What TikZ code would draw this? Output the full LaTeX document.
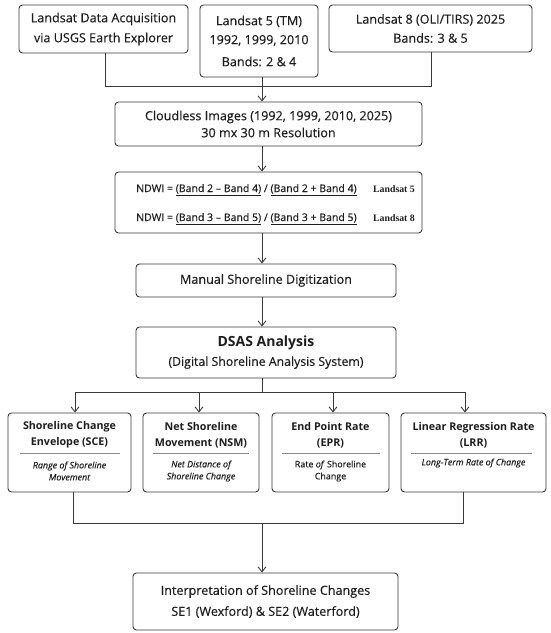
\documentclass[tikz,border=0pt]{standalone}
\usepackage{fontspec}
\setmainfont{Open Sans}
\newfontfamily\medf{Open Sans}[FakeBold=0.25]
\newfontfamily\serifb{Liberation Serif}
\usetikzlibrary{arrows.meta}
\definecolor{boxc}{HTML}{3A3A3A}
\definecolor{txt}{HTML}{1E1E1E}
\definecolor{divc}{HTML}{8A8A8A}
\begin{document}
\begin{tikzpicture}[x=1pt,y=-1pt,
  box/.style={draw=boxc, line width=0.9pt, rounded corners=3.5pt, inner sep=0pt,
    anchor=center, align=center, text=txt, fill=white},
  mainf/.style={font=\medf\fontsize{12.6}{#1}\selectfont},
  conn/.style={draw=boxc, line width=0.9pt},
  arr/.style={conn, -{Straight Barb[length=5pt,width=8pt,line width=0.9pt]}},
  ttl/.style={anchor=center, align=center, text=txt, inner sep=0pt,
    font=\fontsize{10.7}{16}\selectfont\bfseries},
  dsc/.style={anchor=center, align=center, text=txt, inner sep=0pt,
    font=\medf\fontsize{8.9}{12}\selectfont\itshape},
  formula/.style={anchor=base west, inner sep=0pt, text=txt, font=\medf\fontsize{10.5}{12}\selectfont},
  satlbl/.style={anchor=base west, inner sep=0pt, text=txt, font=\serifb\fontsize{9.8}{10}\selectfont\bfseries},
  divline/.style={draw=divc, line width=0.9pt}]
\useasboundingbox (0,0) rectangle (550,633);

% top row
\node[box, mainf=20, minimum width=169pt, minimum height=48pt] (acq) at (103.5,29)
  {Landsat Data Acquisition\\via USGS Earth Explorer};
\node[box, mainf=19, minimum width=118pt, minimum height=72pt] (tm) at (259,41)
  {Landsat 5 (TM)\\1992, 1999, 2010\\[3pt]Bands: 2 \& 4};
\node[box, mainf=19, minimum width=203pt, minimum height=47pt] (oli) at (430.5,28.5)
  {Landsat 8 (OLI/TIRS) 2025\\Bands: 3 \& 5};

% middle column
\node[box, mainf=17, minimum width=307pt, minimum height=44pt] (cloud) at (268.5,124)
  {Cloudless Images (1992, 1999, 2010, 2025)\\30 mx 30 m Resolution};
\node[box, minimum width=307pt, minimum height=61pt] (ndwi) at (268.5,202.5) {};
\node[formula] (f1) at (136,192) {NDWI = \underline{(Band 2 – Band 4)} / \underline{(Band 2 + Band 4)}};
\node[satlbl] (l5) at (373,192) {Landsat 5};
\node[formula] (f2) at (136,221) {NDWI = \underline{(Band 3 – Band 5)} / \underline{(Band 3 + Band 5)}};
\node[satlbl] (l8) at (373,221) {Landsat 8};
\node[box, mainf=14, minimum width=260pt, minimum height=33pt] (manual) at (266,280.5)
  {Manual Shoreline Digitization};
\node[box, font=\medf\fontsize{12.3}{19}\selectfont, minimum width=260pt, minimum height=51pt] (dsas) at (266,352.5)
  {{\normalfont\fontsize{14}{19}\selectfont\bfseries DSAS Analysis}\\(Digital Shoreline Analysis System)};

% method boxes
\node[box, minimum width=123pt, minimum height=79pt] (sce) at (69.5,452.5) {};
\node[box, minimum width=116pt, minimum height=79pt] (nsm) at (201,452.5) {};
\node[box, minimum width=117pt, minimum height=79pt] (epr) at (330.5,452.5) {};
\node[box, minimum width=145pt, minimum height=79pt] (lrr) at (473.5,452.5) {};

\node[ttl] (scet) at (69.5,435) {Shoreline Change\\Envelope (SCE)};
\node[ttl] (nsmt) at (201,435) {Net Shoreline\\Movement (NSM)};
\node[ttl] (eprt) at (330.5,435) {End Point Rate\\(EPR)};
\node[ttl] (lrrt) at (473.5,435) {Linear Regression Rate\\(LRR)};
\draw[divline] (20,453) -- (120,453);
\draw[divline] (153,453) -- (249,453);
\draw[divline] (282,453) -- (380,453);
\draw[divline] (411,453) -- (532,453);
\node[dsc] (sced) at (69.5,471) {Range of Shoreline\\Movement};
\node[dsc] (nsmd) at (201,471) {Net Distance of\\Shoreline Change};
\node[dsc, font=\medf\fontsize{8.9}{12}\selectfont] (eprd) at (330.5,471) {Rate \textit{of} Shoreline\\Change};
\node[dsc] (lrrd) at (473.5,463) {Long-Term Rate of Change};

% final
\node[box, mainf=21, minimum width=265pt, minimum height=57pt] (final) at (265.5,601.5)
  {Interpretation of Shoreline Changes\\SE1 (Wexford) \& SE2 (Waterford)};

% connectors
\coordinate (spine) at (262,0);
\coordinate (c1) at (105,86);
\coordinate (c3) at (431,86);
\draw[conn] (acq.south -| c1) -- (c1) -- (c3) -- (oli.south -| c3);
\draw[arr] (tm.south -| spine) -- (cloud.north -| spine);
\draw[arr] (cloud.south -| spine) -- (ndwi.north -| spine);
\draw[arr] (ndwi.south -| spine) -- (manual.north -| spine);
\draw[arr] (manual.south -| spine) -- (dsas.north -| spine);

\coordinate (bm) at (262,392);
\coordinate (bl) at (75,392);
\coordinate (bn) at (199,392);
\coordinate (be) at (333,392);
\coordinate (br) at (465,392);
\draw[conn] (dsas.south -| spine) -- (bm);
\draw[conn] (bl) -- (br);
\draw[arr] (bl) -- (sce.north -| bl);
\draw[arr] (bn) -- (nsm.north -| bn);
\draw[arr] (be) -- (epr.north -| be);
\draw[arr] (br) -- (lrr.north -| br);

\coordinate (ql) at (73,523);
\coordinate (qr) at (463,523);
\draw[conn] (sce.south -| ql) -- (ql) -- (qr) -- (lrr.south -| qr);
\draw[arr] (spine |- ql) -- (final.north -| spine);
\end{tikzpicture}
\end{document}
